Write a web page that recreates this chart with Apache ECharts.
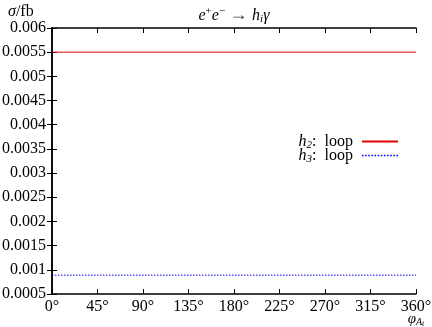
<!DOCTYPE html>
<html>
<head>
<meta charset="utf-8">
<script src="https://cdn.jsdelivr.net/npm/echarts@6/dist/echarts.min.js"></script>
<style>
  html, body { margin: 0; padding: 0; background: #fff; }
  #chart { width: 432px; height: 327px; }
</style>
</head>
<body>
<div id="chart"></div>
<script>
// angle phi_At in degrees
const phi = [0, 45, 90, 135, 180, 225, 270, 315, 360];
// cross sections in fb
const h2Loop = [0.0055, 0.0055, 0.0055, 0.0055, 0.0055, 0.0055, 0.0055, 0.0055, 0.0055];
const h3Loop = [0.00089, 0.00089, 0.00089, 0.00089, 0.00089, 0.00089, 0.00089, 0.00089, 0.00089];
const seriesNames = ['h2', 'h3'];

const fontFamily = '"Liberation Serif", "DejaVu Serif", serif';
const textColor = '#000000';

const chart = echarts.init(document.getElementById('chart'), null, { renderer: 'canvas' });

// dotted legend sample for h3
let dots = '';
for (let i = 0; i < 12; i++) dots += 'M' + (i * 3) + ',0h1.5v1.5h-1.5z';

const subRich = {
  sub: { fontSize: 11, fontFamily: fontFamily, fontStyle: 'italic', color: textColor, lineHeight: 13, padding: [8, 0, 0, 0] },
  it: { fontSize: 16, fontFamily: fontFamily, fontStyle: 'italic', color: textColor, lineHeight: 13 },
  n: { fontSize: 16, fontFamily: fontFamily, color: textColor, lineHeight: 13 },
  gap: { width: 4, lineHeight: 13 }
};

const hiddenAxis = {
  axisLabel: { show: false },
  axisTick: { show: true, inside: true, length: 5, lineStyle: { color: '#000', width: 1 } },
  axisLine: { show: true, lineStyle: { color: '#000', width: 1.5 } },
  splitLine: { show: false }
};

const option = {
  animation: false,
  backgroundColor: '#ffffff',
  textStyle: { fontFamily: fontFamily },
  title: {
    text: '{it|e}{sup|+}{it|e}{sup|−} → {it|h}{sub|i}{it|γ}',
    left: 229,
    top: 1,
    textAlign: 'center',
    textStyle: {
      fontWeight: 'normal',
      rich: {
        it: { fontSize: 16, fontFamily: fontFamily, fontStyle: 'italic', fontWeight: 'normal', color: textColor },
        sup: { fontSize: 11, fontFamily: fontFamily, fontWeight: 'normal', color: textColor, padding: [0, 0, 8, 0] },
        sub: { fontSize: 11, fontFamily: fontFamily, fontStyle: 'italic', fontWeight: 'normal', color: textColor, padding: [8, 0, 0, 0] }
      }
    }
  },
  grid: { left: 52, right: 16, top: 28, bottom: 33, containLabel: false, outerBoundsMode: 'none' },
  legend: {
    orient: 'vertical',
    right: 34,
    top: 132,
    padding: 0,
    align: 'right',
    itemWidth: 36,
    itemHeight: 2,
    itemGap: -5,
    data: [
      { name: seriesNames[0], icon: 'rect' },
      { name: seriesNames[1], icon: 'path://' + dots }
    ],
    formatter: function (name) {
      return '{it|h}{sub|' + name.slice(1) + '}{n|:  loop}{gap|}';
    },
    textStyle: { rich: subRich }
  },
  xAxis: [
    {
      type: 'value',
      min: 0,
      max: 360,
      interval: 45,
      name: '{it|φ}{sub|A}{subt|t}',
      nameLocation: 'end',
      nameGap: 0,
      nameMoveOverlap: false,
      nameTextStyle: {
        align: 'center',
        verticalAlign: 'top',
        padding: [16, 0, 0, 0],
        rich: {
          it: { fontSize: 15, fontFamily: fontFamily, fontStyle: 'italic', color: textColor },
          sub: { fontSize: 10, fontFamily: fontFamily, fontStyle: 'italic', color: textColor, padding: [6, 0, 0, 0] },
          subt: { fontSize: 8, fontFamily: fontFamily, fontStyle: 'italic', color: textColor, padding: [10, 0, 0, 0] }
        }
      },
      axisLine: { show: true, lineStyle: { color: '#000', width: 1.5 } },
      axisTick: { inside: true, length: 5, lineStyle: { color: '#000', width: 1 } },
      axisLabel: {
        color: textColor,
        fontFamily: fontFamily,
        fontSize: 16,
        margin: 5,
        formatter: function (v) { return v + '°'; }
      },
      splitLine: { show: false }
    },
    Object.assign({ type: 'value', min: 0, max: 360, interval: 45, position: 'top' }, hiddenAxis)
  ],
  yAxis: [
    {
      type: 'value',
      min: 0.0005,
      max: 0.006,
      interval: 0.0005,
      name: '{it|σ}{n|/fb}',
      nameLocation: 'end',
      nameGap: 8,
      nameTextStyle: {
        align: 'left',
        padding: [0, 0, 0, -44],
        rich: {
          it: { fontSize: 16, fontFamily: fontFamily, fontStyle: 'italic', color: textColor },
          n: { fontSize: 16, fontFamily: fontFamily, color: textColor }
        }
      },
      axisLine: { show: true, lineStyle: { color: '#000', width: 1.5 } },
      axisTick: { inside: true, length: 5, lineStyle: { color: '#000', width: 1 } },
      axisLabel: {
        color: textColor,
        fontFamily: fontFamily,
        fontSize: 16,
        margin: 6,
        formatter: function (v) { return parseFloat(v.toFixed(4)).toString(); }
      },
      splitLine: { show: false }
    },
    Object.assign({ type: 'value', min: 0.0005, max: 0.006, interval: 0.0005, position: 'right' }, hiddenAxis)
  ],
  series: [
    {
      name: 'h2',
      type: 'line',
      symbol: 'none',
      data: phi.map((x, i) => [x, h2Loop[i]]),
      lineStyle: { color: '#e00000', width: 1 },
      itemStyle: { color: '#e00000' }
    },
    {
      name: 'h3',
      type: 'line',
      symbol: 'none',
      data: phi.map((x, i) => [x, h3Loop[i]]),
      lineStyle: { color: '#0000ff', width: 1, type: [1.5, 1.5] },
      itemStyle: { color: '#0000ff' }
    }
  ]
};

chart.setOption(option);
</script>
</body>
</html>
